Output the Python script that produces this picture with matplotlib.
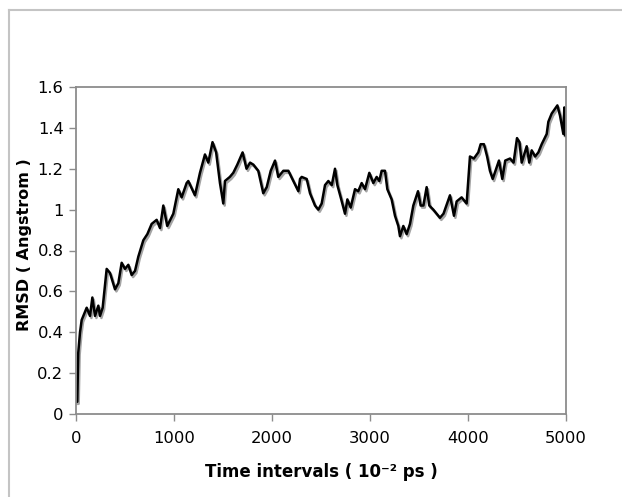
"""RMSD vs time interval plot (Excel-like style)."""
import matplotlib
matplotlib.use("Agg")
import matplotlib.pyplot as plt
import matplotlib.patheffects as pe
from matplotlib.lines import Line2D
from matplotlib.ticker import FuncFormatter

# data
time_steps = [
    0, 13, 23, 41, 58, 75, 109, 143, 167, 194, 228, 245, 272, 313, 347, 398,
    432, 466, 500, 534, 568, 602, 636, 687, 728, 772, 823, 857, 891, 931, 993,
    1044, 1078, 1129, 1146, 1214, 1265, 1316, 1350, 1393, 1430, 1469, 1503,
    1520, 1570, 1605, 1646, 1700, 1740, 1776, 1810, 1860, 1911, 1946, 1987,
    2031, 2064, 2116, 2167, 2218, 2269, 2286, 2303, 2354, 2388, 2439, 2473,
    2507, 2541, 2575, 2610, 2643, 2667, 2701, 2745, 2769, 2803, 2847, 2880,
    2915, 2949, 2993, 3034, 3068, 3095, 3119, 3153, 3177, 3221, 3255, 3289,
    3306, 3340, 3374, 3408, 3442, 3490, 3517, 3545, 3578, 3605, 3646, 3697,
    3714, 3750, 3816, 3857, 3884, 3935, 3986, 4020, 4060, 4105, 4129, 4163,
    4195, 4224, 4252, 4280, 4316, 4350, 4380, 4429, 4465, 4500, 4525, 4548,
    4599, 4625, 4650, 4685, 4718, 4752, 4803, 4820, 4854, 4912, 4939, 4973,
    4983, 4997, 5000,
]
rmsd = [
    0.06, 0.06, 0.30, 0.40, 0.46, 0.48, 0.52, 0.48, 0.57, 0.48, 0.53, 0.48,
    0.52, 0.71, 0.69, 0.61, 0.64, 0.74, 0.71, 0.73, 0.68, 0.70, 0.77, 0.85,
    0.88, 0.93, 0.95, 0.91, 1.02, 0.92, 0.98, 1.10, 1.06, 1.13, 1.14, 1.07,
    1.18, 1.27, 1.23, 1.33, 1.28, 1.13, 1.03, 1.14, 1.16, 1.18, 1.22, 1.28,
    1.20, 1.23, 1.22, 1.19, 1.08, 1.11, 1.19, 1.24, 1.16, 1.19, 1.19, 1.14,
    1.09, 1.15, 1.16, 1.15, 1.08, 1.02, 1.00, 1.03, 1.12, 1.14, 1.12, 1.20,
    1.12, 1.06, 0.98, 1.05, 1.01, 1.10, 1.09, 1.13, 1.10, 1.18, 1.13, 1.16,
    1.14, 1.19, 1.19, 1.10, 1.05, 0.97, 0.92, 0.87, 0.92, 0.88, 0.93, 1.02,
    1.09, 1.02, 1.02, 1.11, 1.02, 1.00, 0.97, 0.96, 0.98, 1.07, 0.97, 1.04,
    1.06, 1.03, 1.26, 1.25, 1.28, 1.32, 1.32, 1.26, 1.19, 1.15, 1.19, 1.24,
    1.15, 1.24, 1.25, 1.23, 1.35, 1.33, 1.23, 1.31, 1.23, 1.29, 1.26, 1.28,
    1.32, 1.37, 1.43, 1.47, 1.51, 1.46, 1.37, 1.50, 1.36, 1.40,
]
x_ticks = [0, 1000, 2000, 3000, 4000, 5000]
y_ticks = [0, 0.2, 0.4, 0.6, 0.8, 1.0, 1.2, 1.4, 1.6]

plt.rcParams["font.family"] = ["DejaVu Sans"]

W, H = 622, 497
fig = plt.figure(figsize=(W / 100, H / 100), dpi=100)
# 绘图区：左76 右566 上87 下414（像素）
ax = fig.add_axes([76 / W, 1 - 414 / H, 490 / W, 327 / H])

# 外框（灰色，右侧和下侧被裁掉）
frame_color = "#c4c4c4"
fx, fy = 9 / W, 1 - 10 / H
fig.add_artist(Line2D([fx, fx], [0, fy], transform=fig.transFigure,
                      color=frame_color, linewidth=1.5))
fig.add_artist(Line2D([fx, 1.0], [fy, fy], transform=fig.transFigure,
                      color=frame_color, linewidth=1.5))

ax.plot(time_steps, rmsd, color="black", linewidth=1.8,
        path_effects=[pe.SimpleLineShadow(offset=(1, -1.5), shadow_color="#9a9a9a", alpha=0.9),
                      pe.Normal()])

ax.set_xlim(0, 5000)
ax.set_ylim(0, 1.6)
ax.set_xticks(x_ticks)
ax.set_yticks(y_ticks)
ax.yaxis.set_major_formatter(FuncFormatter(lambda v, p: f"{v:g}"))

for spine in ax.spines.values():
    spine.set_color("#8c8c8c")
    spine.set_linewidth(1.3)
ax.tick_params(direction="out", length=5, width=1, color="#8c8c8c", labelsize=11.8)
ax.tick_params(axis="x", pad=7)
ax.tick_params(axis="y", pad=4)

fig.text(321 / W, 1 - 472 / H, "Time intervals ( 10⁻² ps )", fontsize=12,
         fontweight="bold", ha="center", va="center")
fig.text(25 / W, 1 - 245 / H, "RMSD ( Angstrom )", fontsize=11.5,
         fontweight="bold", ha="center", va="center", rotation=90)

fig.savefig("out.png", dpi=100)
